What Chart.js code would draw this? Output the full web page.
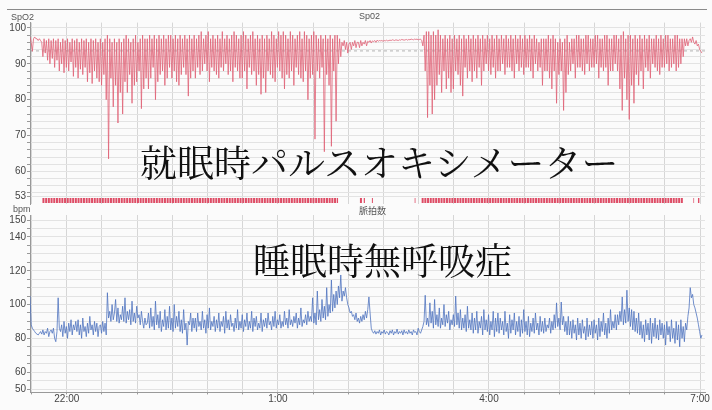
<!DOCTYPE html>
<html>
<head>
<meta charset="utf-8">
<script src="https://cdn.jsdelivr.net/npm/chart.js@4.4.1/dist/chart.umd.min.js"></script>
<style>
  html, body { margin: 0; padding: 0; background: #fbfbfb; }
  #wrap { position: relative; width: 712px; height: 410px; overflow: hidden; }
  canvas { position: absolute; left: 0; }
  #spo2 { top: 0; }
  #pulse { top: 205px; }
  .rule { position: absolute; left: 7px; top: 9px; width: 700px; height: 1px; background: #8a8a8a; }
  .lbl { position: absolute; font: 9px "Liberation Sans", Arial, sans-serif; color: #555; white-space: nowrap; }
  .big { position: absolute; font-family: "Noto Serif CJK JP", "Noto Sans CJK JP", serif; font-size: 37px; line-height: 37px; color: #111; white-space: nowrap; }
</style>
</head>
<body>
<div id="wrap">
  <div class="rule"></div>
  <canvas id="spo2" width="712" height="206"></canvas>
  <canvas id="pulse" width="712" height="205"></canvas>
  <div class="lbl" style="left:11px;top:12px;">SpO2</div>
  <div class="lbl" style="left:359px;top:11px;">Sp02</div>
  <div class="lbl" style="left:13px;top:204px;">bpm</div>
  <div class="lbl" style="left:359px;top:204px;font-family:'Noto Sans CJK JP';">脈拍数</div>
  <div class="big" style="left:140px;top:143px;">就眠時パルスオキシメーター</div>
  <div class="big" style="left:253px;top:241px;">睡眠時無呼吸症</div>
</div>
<script>
/* ── Data ─────────────────────────────────────────────────────────────────── */
// recording grid: first sample at 21:28, one sample per minute (hours, 25 = 1:00)
const SAMPLE_START = 21.477;
const SAMPLE_STEP  = 1 / 60;

const spo2 = [
  97.5, 96, 93.5, 97, 97.5, 97, 97, 96.5, 97, 96.5, 96, 92, 97, 93, 96.5, 91, 97, 90, 96.5, 91.5,
  97, 89, 96.5, 91, 97, 88, 96, 90, 97, 87.5, 96.5, 89, 97, 88, 96, 90.5, 97, 86.5, 96.5, 89,
  97, 86, 96, 88.5, 97, 87, 96.5, 89, 97, 85, 96, 87.5, 97, 84.5, 96.5, 88, 97, 86, 96, 85,
  97, 84, 96, 87, 97, 80, 98, 63.5, 97, 86, 96, 78, 97, 84, 96, 73.5, 97, 82, 96, 76,
  97, 85, 98, 82, 97, 87, 96, 79, 97, 84, 98, 85, 96, 88, 97, 77.5, 98, 83, 97, 86,
  97, 83, 98, 86, 97, 89, 98, 80, 97, 85, 98, 87, 97, 88, 98, 84, 97, 86, 98, 89,
  98, 86, 97, 88, 98, 85, 97, 84, 98, 87, 97, 89, 98, 87, 97, 81, 98, 86, 97, 88,
  98, 86, 97, 89, 98, 87, 99, 88, 97, 90, 98, 88, 99, 85, 97, 89, 98, 88, 97, 87,
  98, 86, 97, 89, 99, 88, 97, 90, 98, 87, 97, 88, 98, 85, 99, 89, 98, 88, 97, 86,
  98, 86, 99, 88, 98, 83, 97, 89, 98, 87, 99, 88, 97, 84, 98, 87, 97, 81.5, 98, 86,
  97, 82, 98, 88, 97, 87, 99, 86, 98, 85, 97, 89, 99, 88, 98, 86, 99, 83, 98, 87,
  97, 86, 99, 88, 98, 84, 97, 89, 98, 87, 99, 86, 97, 85, 99, 88, 98, 80, 97, 86,
  98, 87, 99, 69, 98, 88, 97, 86, 98, 89, 97, 65.5, 98, 87, 97, 84, 98, 67, 97, 88,
  98, 74, 98, 90, 97, 92, 96, 95, 96.5, 94, 96, 93, 95.5, 96, 94, 96, 95, 96.5, 94.5, 96,
  96, 94.5, 96.5, 95, 96, 95.5, 96.5, 95, 96.3, 96, 96.5, 95.8, 96.4, 96.2, 96.5, 96, 96.6, 96.3, 96.5, 96.4,
  96.5, 96.3, 96.5, 96.4, 96.6, 96.4, 96.5, 96.6, 96.5, 96.7, 96.6, 96.5, 96.7, 96.6, 96.5, 96.7, 96.6, 96.8, 96.7, 96.6,
  96.7, 96.8, 96.6, 96.8, 96.7, 96.9, 96.8, 96.7, 96.9, 96.8, 96.9, 96.7, 96.8, 96.9, 96.5, 95, 98, 88, 99, 75,
  99, 84, 98, 76, 99, 80, 98, 84, 99.5, 87, 98, 82, 97, 88, 98, 83, 97, 86, 98, 82,
  97, 83, 98, 88, 97, 87, 98, 84, 97, 81, 98, 89, 97, 86, 98, 88, 97, 85, 98, 88,
  97, 86, 98, 89, 97, 84, 98, 88, 97, 90, 98, 88, 97, 87, 98, 89, 97, 86, 98, 88,
  97, 88, 98, 90, 97, 87, 98, 89, 97, 89, 98, 88, 97, 86, 98, 90, 97, 88, 98, 89,
  97, 87, 98, 89, 97, 89, 98, 88, 97, 86, 98, 90, 97, 88, 96, 89, 97, 84, 97, 88,
  97, 88, 98, 86, 97, 83, 98, 88, 97, 79, 96, 87, 97, 88, 96, 77, 97, 82, 98, 87,
  96, 88, 97, 90, 97, 86, 98, 89, 98, 89, 97, 88, 97, 87, 98, 90, 98, 88, 97, 89,
  97, 89, 98, 90, 98, 86, 97, 89, 97, 88, 98, 89, 98, 84, 97, 88, 97, 88, 98, 90,
  98, 88, 97, 83, 98, 77, 99, 86, 97, 80, 98, 74.5, 98, 84, 97, 79, 98, 87, 97, 84,
  98, 88, 97, 83, 98, 89, 97, 88, 98, 86, 97, 90, 97, 89, 98, 88, 97, 87, 98, 89,
  97, 89, 98, 90, 98, 88, 97, 89, 97, 90, 98, 88, 98, 89, 97, 90, 97, 92, 97, 95,
  97, 95, 96.5, 97, 96, 97.5, 96, 95.5, 96.5, 95, 95.5, 94, 93.5, 93,
];

const pulse = [
  105, 88, 86, 85, 84, 83, 82.5, 82, 83, 84, 82.5, 85, 82, 84, 83, 86, 81, 84, 85, 83,
  86, 80, 78, 84, 104, 86, 84, 88, 81, 90, 83, 87, 80, 89, 84, 91, 82, 88, 85, 90,
  84, 91, 82, 88, 80, 92, 84, 87, 81, 89, 83, 93, 85, 88, 82, 90, 84, 89, 81, 87,
  88, 83, 90, 84, 89, 82, 107, 92, 96, 90, 100, 91, 95, 103, 90, 98, 89, 94, 91, 99,
  90, 104, 89, 96, 91, 97, 88, 102, 90, 95, 89, 99, 92, 94, 88, 96, 90, 86, 92, 88,
  89, 95, 86, 98, 87, 93, 85, 102, 88, 94, 86, 96, 84, 91, 87, 97, 85, 93, 86, 99,
  85, 92, 84, 100, 86, 93, 87, 96, 84, 91, 83, 97, 85, 89, 76, 90, 88, 95, 84, 92,
  86, 92, 84, 95, 87, 90, 85, 96, 86, 91, 83, 94, 86, 98, 85, 90, 87, 93, 84, 91,
  86, 95, 84, 90, 87, 93, 83, 96, 86, 91, 85, 94, 87, 89, 84, 92, 86, 97, 85, 90,
  86, 94, 84, 91, 87, 95, 85, 90, 86, 96, 84, 92, 87, 93, 85, 89, 86, 95, 84, 91,
  87, 92, 86, 95, 88, 90, 85, 93, 87, 96, 86, 91, 88, 94, 86, 90, 87, 96, 88, 92,
  86, 97, 88, 91, 87, 93, 89, 95, 86, 92, 88, 98, 87, 91, 89, 94, 88, 96, 90, 93,
  90, 104, 89, 95, 88, 108, 91, 97, 90, 103, 92, 99, 91, 110, 93, 100, 95, 114.5, 96, 106,
  98, 108, 100, 111, 104, 117.5, 102, 108, 105, 110, 104, 100, 98, 95, 96, 93, 94, 91, 95, 90,
  92, 89, 93, 90, 94, 91, 96, 92, 97, 104.5, 95, 86, 84, 83, 84.5, 82.5, 84, 83, 85, 82,
  84, 83, 85, 82.5, 84, 83.5, 82, 84.5, 83, 85, 82, 84, 83, 85.5, 82.5, 84, 83, 84.5, 82, 85,
  83, 84, 82.5, 85, 83, 84, 82, 85, 83.5, 84, 82, 86, 84, 83, 85, 87, 90, 105.5, 88, 92,
  87, 101, 89, 96, 86, 103, 88, 94, 87, 98, 86, 92, 88, 100, 87, 94, 89, 96, 85, 91,
  88, 94, 87, 105, 88, 95, 86, 97, 85, 92, 86, 94, 84, 99, 86, 91, 85, 95, 83, 92,
  85, 96, 83, 90, 86, 93, 82, 97, 85, 91, 84, 94, 82, 90, 85, 96, 81, 92, 84, 95,
  83, 92, 85, 90, 82, 96, 84, 89, 80, 94, 83, 91, 85, 95, 82, 90, 84, 93, 81, 91,
  83, 97, 84, 90, 82, 93, 81, 89, 84, 92, 83, 95, 85, 89, 82, 93, 84, 90, 83, 92,
  84, 88, 86, 92, 83, 90, 85, 94, 86, 101, 87, 92, 85, 101.5, 88, 93, 84, 90, 82, 93,
  82, 90, 80, 91, 83, 88, 79, 92, 82, 89, 80, 91, 83, 87, 79, 92, 81, 88, 82, 90,
  80, 91, 83, 88, 79, 92, 81, 90, 84, 95, 82, 89, 80, 92, 83, 97, 85, 90, 86, 94,
  85, 94, 88, 96, 90, 104.5, 88, 97, 89, 108.5, 90, 98, 87, 97, 85, 96, 84, 92, 83, 95,
  82, 90, 80, 88, 78, 91, 82, 89, 79, 92, 77, 89, 81, 92, 80, 88, 79, 91, 82, 89,
  80, 88, 76, 90, 82, 87, 78, 91, 80, 86, 77, 90, 79, 88, 75, 91, 80, 87, 78, 89,
  85, 93, 98, 110, 104, 106, 100, 98, 95, 92, 88, 84, 80, 82,
];

// desaturation event marks (start, end in hours)
const eventRanges = [
  [21.654, 25.855], [26.166, 26.20], [26.22, 26.237], [26.336, 26.35],
  [26.944, 26.955], [27.043, 30.763], [30.905, 30.915], [30.97, 30.99],
];
const SPO2_REF = 93.6;

const spo2Labels  = [100, 90, 80, 70, 60, 53];
const pulseLabels = [150, 140, 120, 100, 80, 60, 50];
const timeLabelHours = [22, 25, 28, 31];
const timeLabels     = ['22:00', '1:00', '4:00', '7:00'];

const X_MIN = 21.477, X_MAX = 31.07;

/* ── Helpers ──────────────────────────────────────────────────────────────── */
const toPoints = arr => arr.map((v, i) => ({ x: SAMPLE_START + i * SAMPLE_STEP, y: v }));

const markPoints = [];
eventRanges.forEach(([a, b]) => {
  markPoints.push({ x: a, y: 51.9 }, { x: b, y: 51.9 }, { x: b, y: null });
});

const FONT = { family: 'Liberation Sans, Arial, sans-serif', size: 10 };

function xAxis(showLabels) {
  return {
    type: 'linear', min: X_MIN, max: X_MAX,
    afterBuildTicks: s => {
      const t = [];
      for (let h = 21.5; h <= 31.01; h += 0.5) t.push({ value: h });
      s.ticks = t;
    },
    afterFit: s => { s.height = showLabels ? 17.6 : 0; s.paddingLeft = 0; s.paddingRight = 0; },
    ticks: {
      display: showLabels, autoSkip: false, maxRotation: 0, padding: -1,
      color: '#444', font: FONT,
      callback: v => {
        const k = timeLabelHours.indexOf(v);
        return k >= 0 ? timeLabels[k] : '';
      },
    },
    grid: { color: '#d6d6d6', lineWidth: 1, drawTicks: showLabels, tickLength: 2, tickColor: '#999' },
    border: { display: showLabels, color: '#999' },
  };
}

function yAxis(min, max, tickVals, labelVals) {
  return {
    min, max,
    afterBuildTicks: s => { s.ticks = tickVals.map(v => ({ value: v })); },
    afterFit: s => { s.width = 30; s.paddingTop = 0; s.paddingBottom = 0; },
    ticks: {
      autoSkip: false, padding: 1, color: '#444', font: FONT,
      callback: v => (labelVals.includes(v) ? String(v) : ''),
    },
    grid: { color: '#e3e3e3', lineWidth: 1, tickLength: 3, tickColor: '#999' },
    border: { color: '#999' },
  };
}

const spo2Ticks = [53];
for (let v = 54; v <= 100; v += 2) spo2Ticks.push(v);
const pulseTicks = [];
for (let v = 50; v <= 150; v += 5) pulseTicks.push(v);

const baseOpts = {
  responsive: false,
  animation: false,
  events: [],
  plugins: { legend: { display: false }, tooltip: { enabled: false } },
  elements: { point: { radius: 0 }, line: { tension: 0 } },
};

/* ── SpO2 panel ───────────────────────────────────────────────────────────── */
new Chart(document.getElementById('spo2'), {
  type: 'line',
  data: {
    datasets: [
      { data: toPoints(spo2), borderColor: '#df6276', borderWidth: 0.8, order: 1 },
      { data: [{ x: X_MIN, y: SPO2_REF }, { x: X_MAX, y: SPO2_REF }],
        borderColor: '#a0a0a0', borderWidth: 0.8, borderDash: [3, 3], order: 2 },
      { data: markPoints, borderColor: '#de4d66', borderWidth: 5, borderDash: [2, 0.7], spanGaps: false, order: 3 },
    ],
  },
  options: {
    ...baseOpts,
    layout: { padding: { top: 22.6, bottom: 1.6, left: 0, right: 7 } },
    scales: { x: xAxis(false), y: yAxis(50.8, 101.5, spo2Ticks, spo2Labels) },
  },
});

/* ── Pulse panel ──────────────────────────────────────────────────────────── */
new Chart(document.getElementById('pulse'), {
  type: 'line',
  data: {
    datasets: [
      { data: toPoints(pulse), borderColor: '#4f73bf', borderWidth: 0.8 },
    ],
  },
  options: {
    ...baseOpts,
    layout: { padding: { top: 10, bottom: 0, left: 0, right: 7 } },
    scales: { x: xAxis(true), y: yAxis(48, 153, pulseTicks, pulseLabels) },
  },
});
</script>
</body>
</html>
